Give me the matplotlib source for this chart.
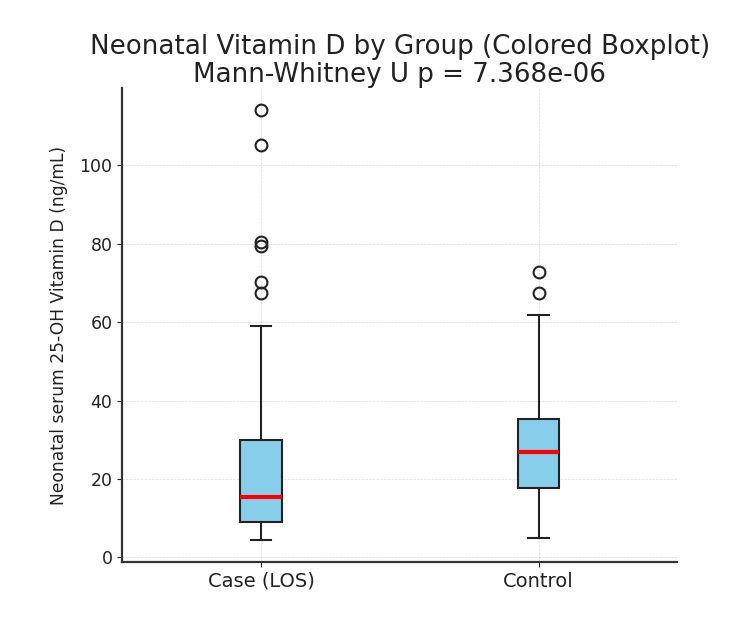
import matplotlib
matplotlib.use('Agg')
import matplotlib.pyplot as plt

groups = ['Case (LOS)', 'Control']
whislo = [4.3, 4.9]
q1 = [8.9, 17.7]
med = [15.3, 26.8]
q3 = [29.8, 35.4]
whishi = [59.0, 61.8]
fliers = [
    [114.2, 105.1, 80.4, 79.4, 70.2, 67.4],
    [72.8, 67.5],
]
p_value = 7.368e-06

stats = []
for i, g in enumerate(groups):
    stats.append(dict(label=g, whislo=whislo[i], q1=q1[i], med=med[i],
                      q3=q3[i], whishi=whishi[i], fliers=fliers[i]))

fig = plt.figure(figsize=(7.5, 6.29), dpi=100)
plt.subplots_adjust(left=0.163, right=0.903, top=0.860, bottom=0.1065)
ax = plt.gca()

dark = '#222222'
ax.bxp(stats, patch_artist=True,
       boxprops=dict(facecolor='skyblue', edgecolor=dark, linewidth=1.5),
       medianprops=dict(color='red', linewidth=3),
       whiskerprops=dict(color=dark, linewidth=1.5),
       capprops=dict(color=dark, linewidth=1.5),
       flierprops=dict(marker='o', markerfacecolor='none',
                       markeredgecolor=dark, markersize=8.5, markeredgewidth=1.5))

ax.grid(True, linestyle='--', linewidth=0.5, alpha=0.45)
ax.spines['top'].set_visible(False)
ax.spines['right'].set_visible(False)
ax.spines['left'].set_linewidth(1.6)
ax.spines['bottom'].set_linewidth(1.6)
ax.spines['left'].set_color('#333333')
ax.spines['bottom'].set_color('#333333')
ax.tick_params(axis='y', labelsize=12.5, colors='#222222')
ax.tick_params(axis='x', labelsize=14, colors='#222222')

ax.set_ylabel('Neonatal serum 25-OH Vitamin D (ng/mL)', fontsize=12.3, color='#222222')
ax.yaxis.set_label_coords(-0.097, 0.5)
ax.set_title('Neonatal Vitamin D by Group (Colored Boxplot)\n'
             'Mann-Whitney U p = %.3e' % p_value, fontsize=18.8, color='#222222',
             pad=2, linespacing=1.1)

plt.savefig('out.png', dpi=100)
